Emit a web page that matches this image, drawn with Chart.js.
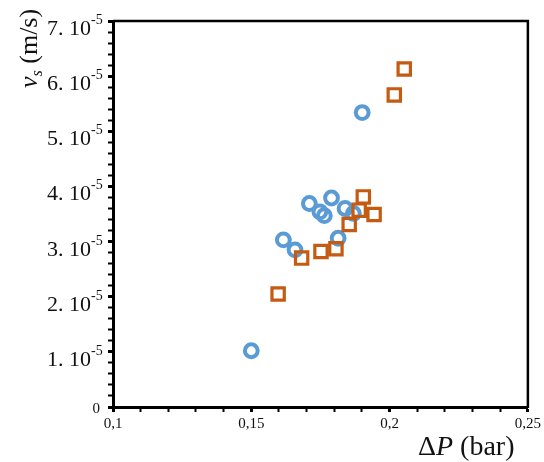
<!DOCTYPE html>
<html lang="fr">
  <head>
    <meta charset="UTF-8" />
    <title>vs en fonction de dP</title>
    <style>
      html, body { margin: 0; padding: 0; background: #fff; }
      #box { width: 544px; height: 462px; }
    </style>
  </head>
  <body>
    <div id="box"><canvas id="myChart"></canvas></div>
    <script src="https://cdn.jsdelivr.net/npm/chart.js"></script>
    <script>
      // serie bleue (cercles) : dP en bar, vs en 1e-5 m/s
      var dp_bleu = [0.150, 0.1616, 0.1658, 0.1710, 0.1748, 0.1764, 0.1790, 0.1814, 0.1839, 0.1869, 0.1901];
      var vs_bleu = [1.02, 3.03, 2.85, 3.69, 3.54, 3.47, 3.79, 3.06, 3.60, 3.51, 5.34];

      // serie orange (carres)
      var dp_orange = [0.1597, 0.1682, 0.1752, 0.1806, 0.1854, 0.1890, 0.1905, 0.1944, 0.2017, 0.2053];
      var vs_orange = [2.05, 2.70, 2.82, 2.87, 3.31, 3.57, 3.81, 3.49, 5.66, 6.13];

      // graduations
      var y_ticks = [0, 1, 2, 3, 4, 5, 6, 7];
      var x_min = 0.1, x_max = 0.25;

      function points(xs, ys) {
        var out = [];
        for (var c = 0; c < xs.length; c++) out.push({ x: xs[c], y: ys[c] });
        return out;
      }

      var serif = "'Liberation Serif', 'Times New Roman', serif";

      // cadre haut/droit, etiquettes y avec exposant, titres des axes
      const decor = {
        id: "decor",
        afterDraw(chart) {
          const ctx = chart.ctx;
          const a = chart.chartArea;
          const sy = chart.scales.y;
          ctx.save();
          ctx.strokeStyle = "#000";
          ctx.lineWidth = 2.5;
          ctx.beginPath();
          ctx.moveTo(a.left, a.top);
          ctx.lineTo(a.right, a.top);
          ctx.lineTo(a.right, a.bottom + 1);
          ctx.stroke();

          ctx.fillStyle = "#111";
          for (var c = 0; c < y_ticks.length; c++) {
            var v = y_ticks[c];
            var py = sy.getPixelForValue(v);
            if (v === 0) {
              ctx.font = "15px " + serif;
              ctx.textAlign = "right";
              ctx.textBaseline = "middle";
              ctx.fillText("0", 100, py + 2);
              continue;
            }
            ctx.textBaseline = "alphabetic";
            ctx.textAlign = "right";
            ctx.font = "22px " + serif;
            ctx.fillText(v + ". 10", 91, py + 14);
            ctx.textAlign = "left";
            ctx.font = "14px " + serif;
            ctx.fillText("-5", 91, py + 3);
          }

          // titre x : ΔP (bar)
          ctx.textAlign = "left";
          ctx.textBaseline = "alphabetic";
          var x = 418, base = 455;
          ctx.font = "28px " + serif;
          ctx.fillText("Δ", x, base);
          x += ctx.measureText("Δ").width;
          ctx.font = "italic 28px " + serif;
          ctx.fillText("P", x, base);
          x += ctx.measureText("P").width;
          ctx.font = "28px " + serif;
          ctx.fillText(" (bar)", x, base);

          // titre y : vs (m/s), vertical
          ctx.translate(37, 88);
          ctx.rotate(-Math.PI / 2);
          var t = 0;
          ctx.font = "italic 26px " + serif;
          ctx.fillText("v", t, 0);
          t += ctx.measureText("v").width;
          ctx.font = "italic 16px " + serif;
          ctx.fillText("s", t, 5);
          t += ctx.measureText("s").width;
          ctx.font = "26px " + serif;
          ctx.fillText(" (m/s)", t, 0);
          ctx.restore();
        },
      };

      const data = {
        datasets: [
          {
            label: "carres",
            data: points(dp_orange, vs_orange),
            pointStyle: "rect",
            radius: 8.7,
            borderWidth: 3.2,
            borderColor: "#C55A11",
            backgroundColor: "rgba(0,0,0,0)",
          },
          {
            label: "cercles",
            data: points(dp_bleu, vs_bleu),
            pointStyle: "circle",
            radius: 6.4,
            borderWidth: 4,
            borderColor: "#5B9BD5",
            backgroundColor: "rgba(0,0,0,0)",
          },
        ],
      };

      const config = {
        type: "scatter",
        data: data,
        plugins: [decor],
        options: {
          responsive: true,
          maintainAspectRatio: false,
          animation: false,
          layout: { padding: { top: 21, right: 16, left: 0, bottom: 0 } },
          plugins: { legend: { display: false }, tooltip: { enabled: false } },
          scales: {
            x: {
              type: "linear",
              min: x_min,
              max: x_max,
              afterFit: function (s) { s.height = 55; },
              border: { display: true, color: "#000", width: 3 },
              grid: {
                display: true,
                drawOnChartArea: false,
                drawTicks: true,
                tickLength: 5,
                color: "#000",
                tickWidth: function (c) {
                  return Math.round(c.tick.value * 100) % 5 === 0 ? 3 : 2;
                },
              },
              ticks: {
                stepSize: 0.01,
                autoSkip: false,
                maxRotation: 0,
                padding: 3,
                color: "#111",
                font: { family: serif, size: 15 },
                callback: function (v) {
                  var r = Math.round(v * 100);
                  if (r % 5 !== 0) return "";
                  return String(r / 100).replace(".", ",");
                },
              },
            },
            y: {
              type: "linear",
              min: 0,
              max: 7,
              afterFit: function (s) { s.width = 113; },
              border: { display: true, color: "#000", width: 3 },
              grid: {
                display: true,
                drawOnChartArea: false,
                drawTicks: true,
                tickLength: 5,
                color: "#000",
                tickWidth: function (c) {
                  return Math.abs(c.tick.value - Math.round(c.tick.value)) < 1e-6 ? 3 : 2;
                },
              },
              ticks: { stepSize: 0.2, autoSkip: false, display: false },
            },
          },
        },
      };

      const myChart = new Chart(document.getElementById("myChart"), config);
    </script>
  </body>
</html>
